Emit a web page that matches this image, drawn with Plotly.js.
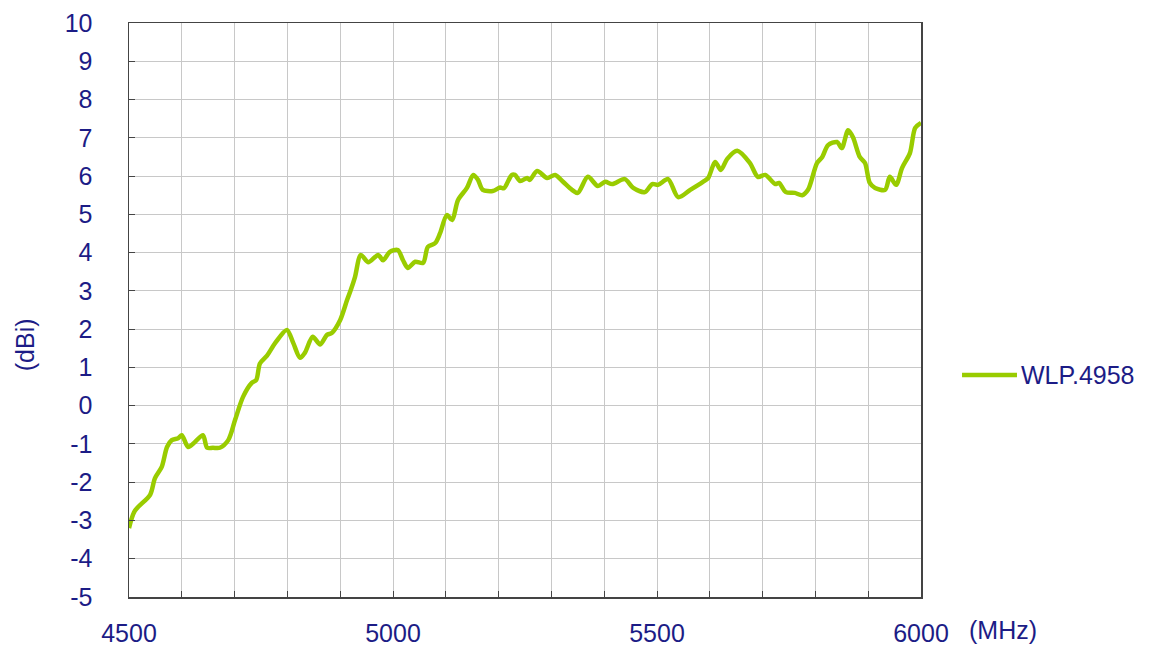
<!DOCTYPE html>
<html><head><meta charset="utf-8">
<script src="https://cdn.plot.ly/plotly-3.0.1.min.js"></script>
<style>html,body{margin:0;padding:0;background:#fff}</style>
</head><body><div id="chart" style="width:1156px;height:648px"></div>
<script>
const freqMHz = [4500,4511,4540,4549,4562,4572,4581,4593,4600,4612,4625,4640,4648,4659,4672,4688,4701,4716,4733,4741,4748,4761,4777,4799,4811,4824,4833,4848,4862,4875,4884,4900,4913,4920,4928,4939,4953,4972,4981,4994,5009,5019,5028,5042,5057,5066,5080,5089,5102,5112,5123,5140,5152,5161,5170,5189,5203,5210,5225,5231,5241,5254,5259,5273,5292,5307,5322,5339,5350,5369,5388,5402,5415,5439,5455,5477,5491,5502,5521,5540,5563,5587,5597,5610,5621,5633,5652,5676,5691,5705,5724,5731,5744,5761,5775,5786,5803,5813,5824,5841,5850,5862,5871,5884,5894,5903,5913,5932,5941,5953,5964,5979,5989,6000];
const gainDBi = [-3.2,-2.75,-2.33,-1.9,-1.6,-1.08,-0.9,-0.85,-0.77,-1.08,-0.95,-0.77,-1.1,-1.1,-1.1,-0.9,-0.37,0.23,0.6,0.67,1.1,1.3,1.64,1.98,1.64,1.25,1.38,1.8,1.6,1.85,1.9,2.24,2.76,3.02,3.36,3.94,3.75,3.94,3.8,4.02,4.07,3.8,3.6,3.76,3.73,4.15,4.25,4.5,4.98,4.85,5.37,5.69,6.03,5.9,5.64,5.61,5.7,5.68,6.03,6.03,5.87,5.95,5.9,6.13,5.95,6.03,5.85,5.64,5.56,5.98,5.74,5.85,5.79,5.92,5.69,5.58,5.79,5.77,5.92,5.45,5.64,5.85,5.95,6.37,6.16,6.45,6.66,6.34,5.98,6.03,5.79,5.82,5.58,5.56,5.5,5.64,6.34,6.5,6.81,6.89,6.73,7.2,7.02,6.5,6.34,5.82,5.69,5.64,5.98,5.77,6.21,6.6,7.26,7.39];
const seriesName = "WLP.4958";
const xTickVals = [4500,5000,5500,6000];
const yTickVals = [-5,-4,-3,-2,-1,0,1,2,3,4,5,6,7,8,9,10];

const txt = "#1c1c86";
const lineColor = "#99cc00";
const fontFam = "'Liberation Sans', Arial, sans-serif";
const fs = 25;
const trace = {
  x: freqMHz, y: gainDBi, type: "scatter", mode: "lines", name: seriesName,
  line: {color: lineColor, width: 4.5, shape: "spline", smoothing: 0.8}
};
const layout = {
  width: 1156, height: 648,
  margin: {l: 129, r: 235, t: 23, b: 51},
  paper_bgcolor: "#fff", plot_bgcolor: "#fff",
  font: {family: fontFam, size: fs, color: txt},
  showlegend: false,
  xaxis: {
    range: [4500, 6000], tickvals: xTickVals, ticktext: xTickVals.map(String),
    showgrid: true, gridcolor: "#c8c8c8", gridwidth: 1,
    showline: true, mirror: true, linecolor: "#444", linewidth: 1.5,
    ticks: "inside", ticklen: 6, tickcolor: "#444",
    minor: {dtick: 100, tick0: 4500, showgrid: true, gridcolor: "#c8c8c8", gridwidth: 1, ticks: "inside", ticklen: 6, tickcolor: "#444"},
    zeroline: false, ticklabelstandoff: 13,
    tickfont: {family: fontFam, size: fs, color: txt}
  },
  yaxis: {
    range: [-5, 10], tickvals: yTickVals, ticktext: yTickVals.map(String),
    showgrid: true, gridcolor: "#c8c8c8", gridwidth: 1,
    showline: true, mirror: true, linecolor: "#444", linewidth: 1.5,
    ticks: "inside", ticklen: 6, tickcolor: "#444",
    zeroline: false, ticklabelstandoff: 30,
    tickfont: {family: fontFam, size: fs, color: txt}
  },
  shapes: [
    {type: "line", xref: "paper", yref: "paper", x0: 1.0518, x1: 1.1212, y0: 0.3868, y1: 0.3868,
     line: {color: lineColor, width: 4.5}}
  ],
  annotations: [
    {text: seriesName, xref: "paper", yref: "paper", x: 1.124, y: 0.3868, xanchor: "left", yanchor: "middle",
     showarrow: false, font: {family: fontFam, size: fs, color: txt}},
    {text: "(dBi)", xref: "paper", yref: "paper", x: -0.131, y: 0.439, textangle: -90,
     showarrow: false, font: {family: fontFam, size: fs, color: txt}, xanchor: "center", yanchor: "middle"},
    {text: "(MHz)", xref: "paper", yref: "paper", x: 1.1035, y: -0.0575,
     showarrow: false, font: {family: fontFam, size: fs, color: txt}, xanchor: "center", yanchor: "middle"}
  ]
};
Plotly.newPlot("chart", [trace], layout, {displayModeBar: false, staticPlot: true});
</script></body></html>
